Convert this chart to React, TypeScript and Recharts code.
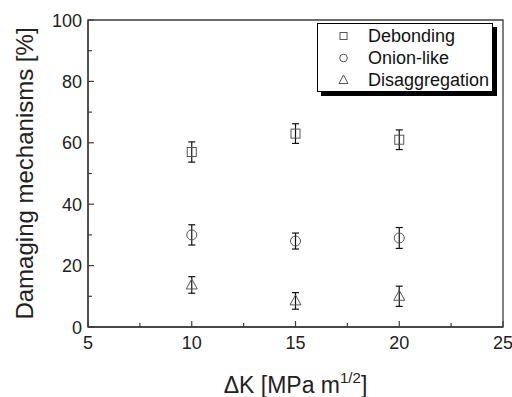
import { ScatterChart, Scatter, XAxis, YAxis, ErrorBar, Legend, ReferenceArea } from 'recharts'

const deltaK = [10, 15, 20]
const debonding = [57, 63, 61]
const debondingErr = [3.3, 3.2, 3.2]
const onionLike = [30, 28, 29]
const onionLikeErr = [3.3, 2.6, 3.4]
const disaggregation = [13.7, 8.5, 10]
const disaggregationErr = [2.7, 2.7, 3.3]

const xTicks = [5, 7.5, 10, 12.5, 15, 17.5, 20, 22.5, 25]
const yTicks = [0, 10, 20, 30, 40, 50, 60, 70, 80, 90, 100]

const axisColor = '#3c3c3c'
const markColor = '#555'
const font = '"Liberation Sans", Arial, sans-serif'

const toRows = (ys: number[], errs: number[]) =>
  deltaK.map((x, i) => ({ x, y: ys[i], err: errs[i] }))

const debondingData = toRows(debonding, debondingErr)
const onionData = toRows(onionLike, onionLikeErr)
const disaggData = toRows(disaggregation, disaggregationErr)

function SquareMark({ cx, cy }: any) {
  return <rect x={cx - 4.5} y={cy - 4.5} width={9} height={9} fill="none" stroke={markColor} strokeWidth={1} />
}

function CircleMark({ cx, cy }: any) {
  return <circle cx={cx} cy={cy} r={5} fill="none" stroke={markColor} strokeWidth={1} />
}

function TriangleMark({ cx, cy }: any) {
  return (
    <path
      d={`M${cx},${cy - 6} L${cx + 5.5},${cy + 4} L${cx - 5.5},${cy + 4} Z`}
      fill="none"
      stroke={markColor}
      strokeWidth={1}
    />
  )
}

function XTick({ x, y, payload }: any) {
  const major = payload.value % 5 === 0
  return (
    <g>
      <line x1={x} x2={x} y1={y} y2={y - (major ? 6 : 4)} stroke={axisColor} strokeWidth={1.2} />
      {major && (
        <text x={x} y={y} dy={22} textAnchor="middle" fontSize={18} fill="#222" fontFamily={font}>
          {payload.value}
        </text>
      )}
    </g>
  )
}

function YTick({ x, y, payload }: any) {
  const major = payload.value % 20 === 0
  return (
    <g>
      <line x1={x} x2={x + (major ? 6 : 4)} y1={y} y2={y} stroke={axisColor} strokeWidth={1.2} />
      {major && (
        <text x={x - 6} y={y} dy={6.5} textAnchor="end" fontSize={18} fill="#222" fontFamily={font}>
          {payload.value}
        </text>
      )}
    </g>
  )
}

function XTitle({ viewBox }: any) {
  const cx = viewBox.x + viewBox.width / 2
  return (
    <text x={cx} y={393} textAnchor="middle" fontSize={23} fill="#222" fontFamily={font}>
      ΔK [MPa m
      <tspan fontSize={15} dy={-10}>1/2</tspan>
      <tspan dy={10}>]</tspan>
    </text>
  )
}

function YTitle({ viewBox }: any) {
  const cy = viewBox.y + viewBox.height / 2
  return (
    <text
      x={33}
      y={cy}
      transform={`rotate(-90 33 ${cy})`}
      textAnchor="middle"
      fontSize={24}
      fill="#222"
      fontFamily={font}
    >
      Damaging mechanisms [%]
    </text>
  )
}

const legendNames = ['Debonding', 'Onion-like', 'Disaggregation']

function LegendBox() {
  return (
    <div
      style={{
        width: 174,
        height: 66,
        border: '1px solid #000',
        boxShadow: '4px 4px 0 #000',
        background: '#fff',
        fontFamily: font,
        fontSize: 18,
        color: '#111',
        paddingTop: 1,
      }}
    >
      {legendNames.map((name, i) => (
        <div key={name} style={{ display: 'flex', alignItems: 'center', height: 22 }}>
          <svg width={50} height={22}>
            {i === 0 && <rect x={22} y={7.5} width={7} height={7} fill="none" stroke={markColor} />}
            {i === 1 && <circle cx={25.5} cy={11} r={3.8} fill="none" stroke={markColor} />}
            {i === 2 && <path d="M25.5,6 L30,14.5 L21,14.5 Z" fill="none" stroke={markColor} />}
          </svg>
          <span style={{ lineHeight: '22px' }}>{name}</span>
        </div>
      ))}
    </div>
  )
}

export default function App() {
  return (
    <div style={{ position: 'absolute', left: 0, top: 0, background: '#fff' }}>
      <ScatterChart width={512} height={397} margin={{ top: 20, right: 9, bottom: 0, left: 0 }}>
        <XAxis
          type="number"
          dataKey="x"
          domain={[5, 25]}
          ticks={xTicks}
          interval={0}
          height={70}
          tickSize={0}
          tickMargin={0}
          tickLine={false}
          axisLine={{ stroke: axisColor, strokeWidth: 1.3 }}
          tick={<XTick />}
          label={<XTitle />}
        />
        <YAxis
          type="number"
          dataKey="y"
          domain={[0, 100]}
          ticks={yTicks}
          interval={0}
          width={88}
          tickSize={0}
          tickMargin={0}
          tickLine={false}
          axisLine={{ stroke: axisColor, strokeWidth: 1.3 }}
          tick={<YTick />}
          label={<YTitle />}
        />
        <ReferenceArea x1={5} x2={25} y1={0} y2={100} fill="none" stroke={axisColor} strokeWidth={1.3} />
        <Legend
          layout="vertical"
          align="center"
          verticalAlign="middle"
          wrapperStyle={{ position: 'absolute', left: 317, top: 23, width: 'auto' }}
          content={<LegendBox />}
        />
        <Scatter name="Debonding" data={debondingData} shape={<SquareMark />} isAnimationActive={false}>
          <ErrorBar dataKey="err" direction="y" width={3.5} stroke="#111" strokeWidth={1.2} />
        </Scatter>
        <Scatter name="Onion-like" data={onionData} shape={<CircleMark />} isAnimationActive={false}>
          <ErrorBar dataKey="err" direction="y" width={3.5} stroke="#111" strokeWidth={1.2} />
        </Scatter>
        <Scatter name="Disaggregation" data={disaggData} shape={<TriangleMark />} isAnimationActive={false}>
          <ErrorBar dataKey="err" direction="y" width={3.5} stroke="#111" strokeWidth={1.2} />
        </Scatter>
      </ScatterChart>
    </div>
  )
}
